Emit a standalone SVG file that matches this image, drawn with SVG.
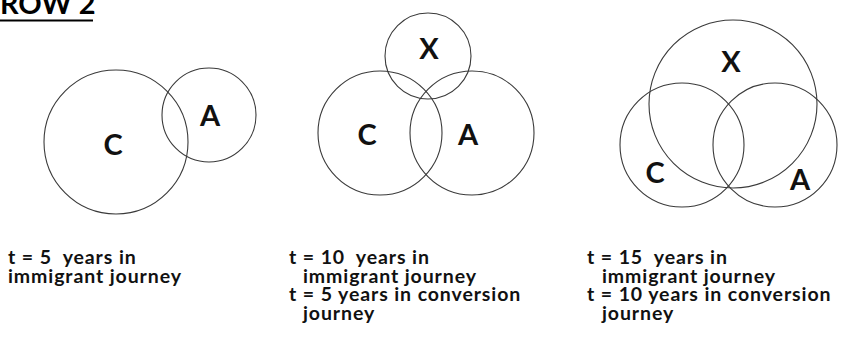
<svg xmlns="http://www.w3.org/2000/svg" width="850" height="341" viewBox="0 0 850 341">
  <style>
    .ring { fill: none; stroke: #3a3a3a; stroke-width: 1.1; }
    .tag { font-family: Lato, "Open Sans", "Liberation Sans", sans-serif; font-weight: 700; font-size: 29px; fill: #111; text-anchor: middle; dominant-baseline: central; }
    .note { font-family: Lato, "Open Sans", "Liberation Sans", sans-serif; font-weight: 700; font-size: 19.5px; letter-spacing: 0.9px; fill: #111; white-space: pre; }
    .title { font-family: Lato, "Open Sans", "Liberation Sans", sans-serif; font-weight: 700; font-size: 29px; fill: #000; }
  </style>
  <rect width="850" height="341" fill="#fff"/>

  <!-- heading -->
  <g id="heading">
    <text class="title" x="0" y="14">ROW 2</text>
    <line x1="0" y1="20.5" x2="93" y2="20.5" stroke="#000" stroke-width="2"/>
  </g>

  <!-- t = 5 -->
  <g id="stage-5">
    <g id="s5-C"><circle class="ring" cx="116" cy="142" r="72"/><text class="tag" x="113" y="143">C</text></g>
    <g id="s5-A"><circle class="ring" cx="209" cy="115" r="47"/><text class="tag" x="210" y="114">A</text></g>
    <text class="note" x="8" y="264" xml:space="preserve">t = 5  years in</text>
    <text class="note" x="8" y="282.5">immigrant journey</text>
  </g>

  <!-- t = 10 -->
  <g id="stage-10">
    <g id="s10-X"><circle class="ring" cx="428" cy="56" r="43"/><text class="tag" x="429" y="47">X</text></g>
    <g id="s10-C"><circle class="ring" cx="380" cy="133" r="62"/><text class="tag" x="367" y="133">C</text></g>
    <g id="s10-A"><circle class="ring" cx="472" cy="133" r="62"/><text class="tag" x="468" y="133">A</text></g>
    <text class="note" x="289" y="264" xml:space="preserve">t = 10  years in</text>
    <text class="note" x="303" y="282.5">immigrant journey</text>
    <text class="note" x="289" y="301">t = 5 years in conversion</text>
    <text class="note" x="303" y="319.5">journey</text>
  </g>

  <!-- t = 15 -->
  <g id="stage-15">
    <g id="s15-X"><circle class="ring" cx="733" cy="104" r="84"/><text class="tag" x="731" y="60">X</text></g>
    <g id="s15-C"><circle class="ring" cx="682" cy="145" r="62"/><text class="tag" x="655" y="171">C</text></g>
    <g id="s15-A"><circle class="ring" cx="775" cy="145" r="62"/><text class="tag" x="800" y="178">A</text></g>
    <text class="note" x="587" y="264" xml:space="preserve">t = 15  years in</text>
    <text class="note" x="602" y="282.5">immigrant journey</text>
    <text class="note" x="587" y="301">t = 10 years in conversion</text>
    <text class="note" x="602" y="319.5">journey</text>
  </g>
</svg>
